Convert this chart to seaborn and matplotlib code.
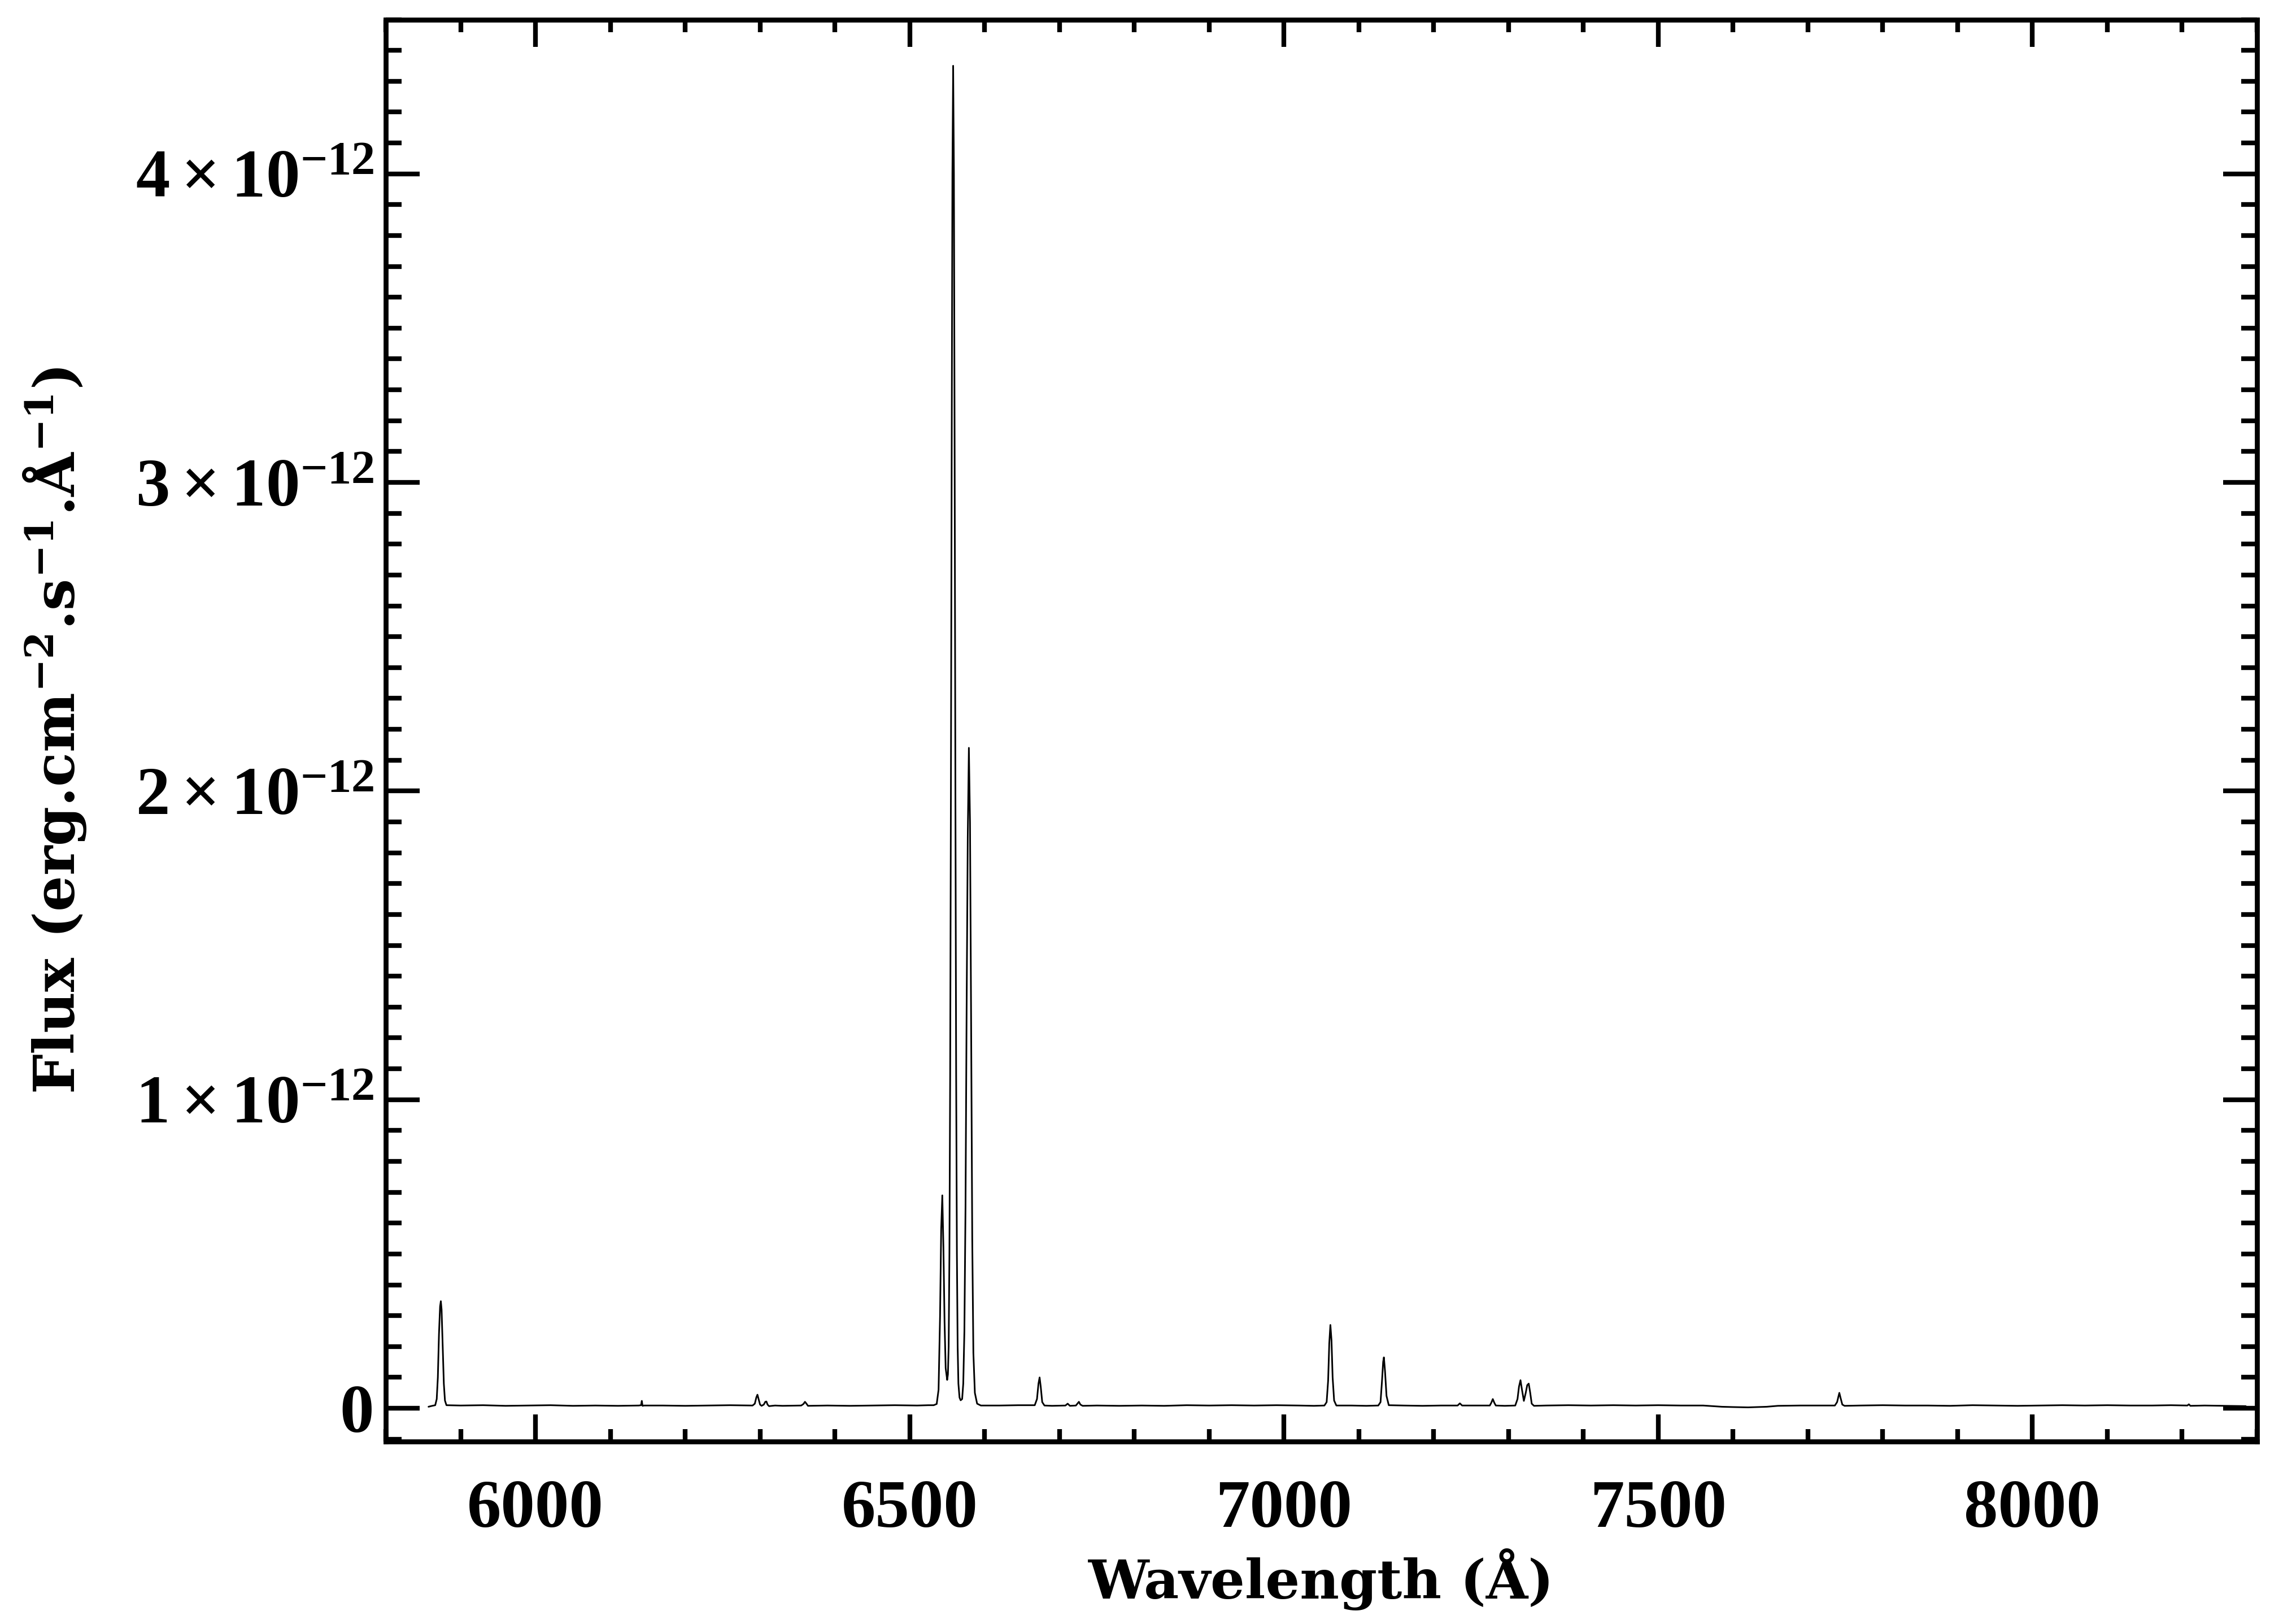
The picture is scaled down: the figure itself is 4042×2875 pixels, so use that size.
import numpy as np
import pandas as pd
import matplotlib
matplotlib.use('Agg')
import matplotlib.pyplot as plt
from matplotlib.ticker import MultipleLocator, FixedLocator, FuncFormatter
import seaborn as sns

# spectrum vertices (wavelength in Angstrom, flux in units of 1e-12)
wave = [5857, 5862, 5866, 5868, 5869.5, 5871, 5872.5, 5873.5, 5874.5, 5876, 5877.5, 5879, 5881,
        5900, 5930, 5960, 5990, 6020, 6050, 6080, 6110, 6138, 6141, 6142, 6143, 6145,
        6170, 6200, 6230, 6260, 6290, 6293, 6295, 6296.5, 6298, 6300, 6302, 6305, 6307,
        6308.5, 6310, 6312, 6320, 6330, 6355, 6358, 6360, 6362, 6364, 6390, 6420, 6450,
        6480, 6510, 6525, 6532, 6536, 6538.5, 6540.5, 6542, 6543.5, 6545, 6546.5, 6548,
        6550, 6551, 6552, 6553, 6554, 6555, 6556, 6557, 6558, 6559, 6560, 6561, 6562,
        6563, 6564, 6565, 6566.5, 6568, 6570, 6571.5, 6573, 6574.5, 6576, 6577.5, 6579,
        6580.5, 6582, 6583.5, 6585, 6587, 6590, 6595, 6620, 6645, 6667, 6670, 6672,
        6673.5, 6675, 6677, 6680, 6690, 6708, 6711, 6714, 6722, 6724, 6726, 6728, 6731,
        6750, 6780, 6810, 6840, 6870, 6900, 6930, 6960, 6990, 7020, 7040, 7054, 7057,
        7059, 7060.5, 7062, 7063.5, 7065, 7067, 7070, 7090, 7110, 7126, 7129, 7131,
        7132.5, 7133.5, 7135, 7137, 7140, 7160, 7185, 7210, 7232, 7235, 7238, 7255,
        7275, 7277, 7279, 7281, 7283, 7295, 7309, 7312, 7314, 7316, 7318, 7320.5, 7323,
        7325, 7327, 7329, 7331, 7334, 7350, 7380, 7410, 7440, 7470, 7500, 7530, 7560,
        7585, 7600, 7620, 7645, 7660, 7690, 7715, 7736, 7739, 7741, 7742, 7743.5, 7746,
        7749, 7770, 7800, 7830, 7860, 7890, 7920, 7950, 7980, 8010, 8040, 8070, 8100,
        8130, 8160, 8185, 8207, 8209, 8211, 8230, 8260, 8285]
flux = [0.005, 0.008, 0.010, 0.030, 0.100, 0.240, 0.330, 0.347, 0.320, 0.200, 0.080, 0.025, 0.010,
        0.009, 0.010, 0.008, 0.009, 0.010, 0.008, 0.009, 0.008, 0.009, 0.010, 0.024, 0.008, 0.009,
        0.009, 0.008, 0.009, 0.010, 0.009, 0.015, 0.035, 0.044, 0.030, 0.012, 0.008, 0.012, 0.021,
        0.022, 0.012, 0.007, 0.009, 0.008, 0.009, 0.014, 0.021, 0.015, 0.008, 0.009, 0.008, 0.009,
        0.010, 0.009, 0.010, 0.010, 0.014, 0.060, 0.300, 0.580, 0.690, 0.520, 0.280, 0.130,
        0.092, 0.110, 0.200, 0.500, 1.080, 2.000, 3.070, 4.000, 4.350, 4.000, 3.070, 2.000, 1.080,
        0.500, 0.200, 0.080, 0.035, 0.026, 0.030, 0.080, 0.250, 0.650, 1.300, 1.850, 2.140,
        1.900, 1.250, 0.550, 0.180, 0.050, 0.015, 0.009, 0.009, 0.010, 0.010, 0.030, 0.080,
        0.100, 0.070, 0.020, 0.009, 0.008, 0.009, 0.015, 0.008, 0.009, 0.015, 0.021, 0.012, 0.008,
        0.009, 0.008, 0.009, 0.008, 0.010, 0.009, 0.010, 0.009, 0.010, 0.009, 0.008, 0.009, 0.020,
        0.090, 0.210, 0.270, 0.220, 0.100, 0.025, 0.009, 0.009, 0.008, 0.009, 0.020, 0.090,
        0.150, 0.165, 0.120, 0.040, 0.010, 0.009, 0.008, 0.009, 0.009, 0.016, 0.009, 0.009,
        0.009, 0.018, 0.030, 0.018, 0.009, 0.008, 0.009, 0.030, 0.070, 0.091, 0.060, 0.024, 0.050,
        0.075, 0.080, 0.050, 0.015, 0.008, 0.009, 0.010, 0.009, 0.010, 0.009, 0.010, 0.009, 0.009,
        0.005, 0.004, 0.003, 0.005, 0.008, 0.009, 0.009, 0.009, 0.020, 0.040, 0.050, 0.035, 0.012,
        0.008, 0.009, 0.010, 0.009, 0.009, 0.008, 0.010, 0.009, 0.008, 0.009, 0.010, 0.009, 0.010,
        0.009, 0.009, 0.010, 0.009, 0.013, 0.008, 0.009, 0.008, 0.007]

df = pd.DataFrame({'wave': wave, 'flux': np.array(flux) * 1e-12})

sns.set_style('ticks')
plt.rcParams['font.family'] = ['Liberation Serif', 'DejaVu Serif']
plt.rcParams['mathtext.fontset'] = 'custom'
plt.rcParams['mathtext.rm'] = 'Liberation Serif:bold'
plt.rcParams['mathtext.it'] = 'Liberation Serif:bold'
plt.rcParams['mathtext.bf'] = 'DejaVu Serif:bold'
plt.rcParams['text.color'] = 'black'
plt.rcParams['axes.labelcolor'] = 'black'
plt.rcParams['xtick.color'] = 'black'
plt.rcParams['ytick.color'] = 'black'

fig = plt.figure(figsize=(4042 / 300, 2875 / 300), dpi=300)
ax = fig.add_axes([0.169, 0.1123, 0.8196, 0.8757])

sns.lineplot(data=df, x='wave', y='flux', color='black', lw=0.7,
             estimator=None, sort=False, ax=ax)

ax.set_xlim(5800, 8300)
ax.set_ylim(-0.108e-12, 4.5e-12)

ax.xaxis.set_major_locator(FixedLocator(np.arange(6000, 8001, 500)))
ax.xaxis.set_minor_locator(MultipleLocator(100))
ax.yaxis.set_major_locator(FixedLocator(np.arange(0, 5) * 1e-12))
ax.yaxis.set_minor_locator(MultipleLocator(0.1e-12))


def yfmt(v, pos):
    k = int(round(v / 1e-12))
    if k == 0:
        return '0'
    return r'$%d\times10^{-12}$' % k


ax.yaxis.set_major_formatter(FuncFormatter(yfmt))
ax.xaxis.offsetText.set_visible(False)
ax.yaxis.offsetText.set_visible(False)

for s in ax.spines.values():
    s.set_linewidth(2.1)
    s.set_color('black')

ax.tick_params(axis='both', which='both', direction='in', top=True, right=True,
               width=2.0, color='black', labelsize=29)
ax.tick_params(axis='x', which='major', length=11.5, pad=16)
ax.tick_params(axis='x', which='minor', length=5.2)
ax.tick_params(axis='y', which='major', length=14.5, pad=5)
ax.tick_params(axis='y', which='minor', length=6.8)
for lab in ax.get_xticklabels() + ax.get_yticklabels():
    lab.set_fontweight('bold')

ax.set_xlabel('Wavelength (Å)', fontsize=23, fontweight='bold',
              family='DejaVu Serif', labelpad=3)
ax.set_ylabel(r'Flux (erg.cm$\mathbf{^{-2}}$.s$\mathbf{^{-1}}$.Å$\mathbf{^{-1}}$)',
              fontsize=24, fontweight='bold', family='DejaVu Serif', labelpad=20)

fig.savefig('out.png', dpi=300)
